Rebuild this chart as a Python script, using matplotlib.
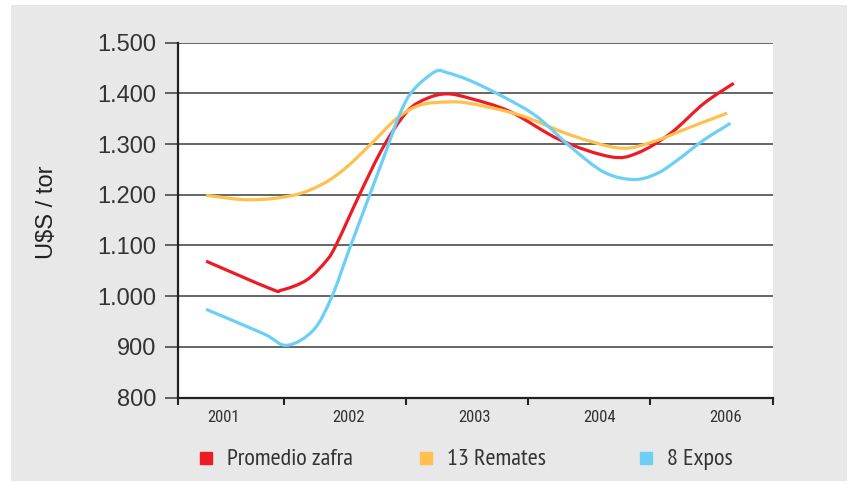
import numpy as np
import matplotlib
matplotlib.use("Agg")
import matplotlib.pyplot as plt
from matplotlib.path import Path
from matplotlib.patches import PathPatch
from matplotlib.lines import Line2D
from matplotlib.ticker import FuncFormatter

plt.rcParams['font.family'] = ['Liberation Sans', 'DejaVu Sans']
narrow = ['Roboto Condensed', 'DejaVu Sans']
narrower = ['PT Sans Narrow', 'Roboto Condensed', 'DejaVu Sans']

# eje x continuo: 1..5 son los limites entre años
year_labels = ['2001', '2002', '2003', '2004', '2006']
series_names = ['Promedio zafra', '13 Remates', '8 Expos']

# puntos (posicion en eje, U$S / ton)
zafra_x = [0.361, 0.885, 0.981, 1.186, 1.350, 1.432, 1.623, 1.814, 2.006, 2.170,
           2.334, 2.525, 2.852, 3.262, 3.672, 3.891, 4.164, 4.437, 4.683]
zafra_y = [1069, 1015, 1012, 1032, 1071, 1104, 1203, 1295, 1364, 1390,
           1399, 1390, 1364, 1308, 1275, 1282, 1321, 1380, 1420]

remates_x = [0.361, 0.721, 1.076, 1.322, 1.514, 1.732, 1.924, 2.115, 2.334, 2.525,
             2.934, 3.344, 3.754, 4.027, 4.301, 4.629]
remates_y = [1199, 1190, 1199, 1222, 1255, 1305, 1351, 1377, 1383, 1380,
             1357, 1318, 1292, 1305, 1331, 1361]

expos_x = [0.361, 0.830, 1.022, 1.240, 1.391, 1.541, 1.787, 1.951, 2.060, 2.238,
           2.334, 2.525, 2.798, 3.071, 3.344, 3.617, 3.863, 4.055, 4.219, 4.437, 4.656]
expos_y = [974, 926, 903, 933, 999, 1097, 1255, 1361, 1407, 1443,
           1441, 1425, 1393, 1354, 1295, 1245, 1230, 1242, 1268, 1308, 1341]

colors = ['#ed1c24', '#fec04f', '#6dcff6']
text_color = '#333333'


def smooth_path(xs, ys):
    """Curva suave (Catmull-Rom pasada a Bezier) por los puntos."""
    pts = np.column_stack([xs, ys]).astype(float)
    p = np.vstack([pts[0], pts, pts[-1]])
    verts = [pts[0]]
    codes = [Path.MOVETO]
    for i in range(1, len(p) - 2):
        c1 = p[i] + (p[i + 1] - p[i - 1]) / 6
        c2 = p[i + 1] - (p[i + 2] - p[i]) / 6
        verts += [c1, c2, p[i + 1]]
        codes += [Path.CURVE4] * 3
    return Path(verts, codes)


fig = plt.figure(figsize=(8.51, 4.83), dpi=100)
fig.patch.set_facecolor('white')
fig.add_artist(plt.Rectangle((11 / 851, 1 - 481 / 483), 836 / 851, 476 / 483,
                             transform=fig.transFigure, facecolor='#e8e8e8',
                             edgecolor='none', zorder=-10))

ax = fig.add_axes([178 / 851, 1 - 397.5 / 483, 594.5 / 851, 354.8 / 483])
ax.set_facecolor('white')

x0 = 0.131
ax.set_xlim(x0, 5)
ax.set_ylim(800, 1500)

for xs, ys, c in zip([zafra_x, remates_x, expos_x],
                     [zafra_y, remates_y, expos_y], colors):
    ax.add_patch(PathPatch(smooth_path(xs, ys), fill=False, edgecolor=c,
                           linewidth=2.3, zorder=3))

ax.set_yticks(np.arange(800, 1501, 100))
ax.yaxis.set_major_formatter(FuncFormatter(lambda v, p: f"{int(v):,}".replace(',', '.')))
ax.grid(axis='y', color='#3c3c3c', linewidth=1.1, zorder=1)
ax.set_axisbelow(True)

ax.set_xticks([x0, 1, 2, 3, 4, 5])
ax.set_xticklabels([])
ax.set_xticks([0.5 + 1.028 * i for i in range(len(year_labels))], minor=True)
ax.set_xticklabels(year_labels, minor=True, family=narrow)

ax.tick_params(axis='y', which='major', length=9.5, width=1.1, color='#3c3c3c',
               labelsize=17, labelcolor=text_color, pad=6)
ax.tick_params(axis='x', which='major', length=5, width=1.5, color='#222222')
ax.tick_params(axis='x', which='minor', length=0, labelsize=12,
               labelcolor=text_color, pad=9)

for side in ['top', 'right']:
    ax.spines[side].set_visible(False)
for side in ['left', 'bottom']:
    ax.spines[side].set_linewidth(1.6)
    ax.spines[side].set_color('#222222')

fig.text(47 / 851, 1 - 212 / 483, 'U$S / tor', rotation=90, ha='center',
         va='center', fontsize=17, color='#222222')

# leyenda
legend_texts = []
for i, (name, c) in enumerate(zip(series_names, colors)):
    lx = (206.3 + 220 * i) / 851
    fig.add_artist(Line2D([lx], [1 - 458.2 / 483], marker='s', markersize=9,
                          color=c, linestyle='none', transform=fig.transFigure))
    legend_texts.append(fig.text(lx + 21 / 851, 1 - 465 / 483, name, ha='left',
                                 va='baseline', fontsize=16, color=text_color,
                                 family=narrower))

# ajustar tamaño de letra angosta al ancho del original
fig.canvas.draw()
w = legend_texts[0].get_window_extent().width
for t in legend_texts:
    t.set_fontsize(16 * 127 / w)
w = ax.get_xticklabels(minor=True)[0].get_window_extent().width
ax.tick_params(axis='x', which='minor', labelsize=12 * 32.5 / w)

fig.savefig('out.png', dpi=100)
